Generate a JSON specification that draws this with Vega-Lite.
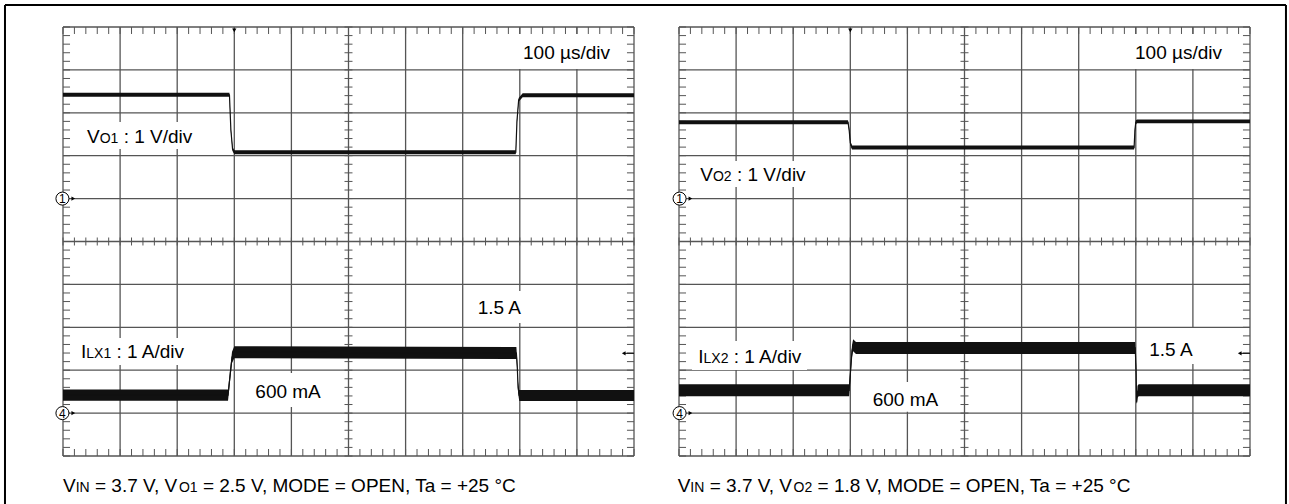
{
"$schema": "https://vega.github.io/schema/vega-lite/v6.json",
"padding": {"left": 3, "top": 3, "right": 3, "bottom": 0},
"background": "white",
"bounds": "flush",
"spacing": 45,
"config": {"view": {"stroke": null}, "font": "Liberation Sans"},
"datasets": {
"one": [{}],
"mt": [{"t":0},{"t":100},{"t":200},{"t":300},{"t":400},{"t":500},{"t":600},{"t":700},{"t":800},{"t":900},{"t":1000}],
"md": [{"d":0},{"d":1},{"d":2},{"d":3},{"d":4},{"d":5},{"d":6},{"d":7},{"d":8},{"d":9},{"d":10}],
"nt": [{"t":0},{"t":20},{"t":40},{"t":60},{"t":80},{"t":100},{"t":120},{"t":140},{"t":160},{"t":180},{"t":200},{"t":220},{"t":240},{"t":260},{"t":280},{"t":300},{"t":320},{"t":340},{"t":360},{"t":380},{"t":400},{"t":420},{"t":440},{"t":460},{"t":480},{"t":500},{"t":520},{"t":540},{"t":560},{"t":580},{"t":600},{"t":620},{"t":640},{"t":660},{"t":680},{"t":700},{"t":720},{"t":740},{"t":760},{"t":780},{"t":800},{"t":820},{"t":840},{"t":860},{"t":880},{"t":900},{"t":920},{"t":940},{"t":960},{"t":980},{"t":1000}],
"nd": [{"d":0},{"d":0.2},{"d":0.4},{"d":0.6},{"d":0.8},{"d":1},{"d":1.2},{"d":1.4},{"d":1.6},{"d":1.8},{"d":2},{"d":2.2},{"d":2.4},{"d":2.6},{"d":2.8},{"d":3},{"d":3.2},{"d":3.4},{"d":3.6},{"d":3.8},{"d":4},{"d":4.2},{"d":4.4},{"d":4.6},{"d":4.8},{"d":5},{"d":5.2},{"d":5.4},{"d":5.6},{"d":5.8},{"d":6},{"d":6.2},{"d":6.4},{"d":6.6},{"d":6.8},{"d":7},{"d":7.2},{"d":7.4},{"d":7.6},{"d":7.8},{"d":8},{"d":8.2},{"d":8.4},{"d":8.6},{"d":8.8},{"d":9},{"d":9.2},{"d":9.4},{"d":9.6},{"d":9.8},{"d":10}],
"tr": [
{"panel":"L","ch":"V","t":0,"v":2.42,"lo":2.375,"hi":2.465},
{"panel":"L","ch":"V","t":291.5,"v":2.42,"lo":2.375,"hi":2.465},
{"panel":"L","ch":"V","t":294,"v":1.6,"lo":1.555,"hi":1.645},
{"panel":"L","ch":"V","t":297,"v":1.15,"lo":1.105,"hi":1.195},
{"panel":"L","ch":"V","t":300,"v":1.08,"lo":1.035,"hi":1.125},
{"panel":"L","ch":"V","t":793,"v":1.08,"lo":1.035,"hi":1.125},
{"panel":"L","ch":"V","t":795,"v":1.8,"lo":1.755,"hi":1.845},
{"panel":"L","ch":"V","t":798,"v":2.3,"lo":2.255,"hi":2.345},
{"panel":"L","ch":"V","t":805,"v":2.41,"lo":2.365,"hi":2.455},
{"panel":"L","ch":"V","t":1000,"v":2.41,"lo":2.365,"hi":2.455},
{"panel":"L","ch":"I","t":0,"v":0.42,"lo":0.29,"hi":0.55},
{"panel":"L","ch":"I","t":289,"v":0.42,"lo":0.29,"hi":0.55},
{"panel":"L","ch":"I","t":292,"v":0.8,"lo":0.67,"hi":0.93},
{"panel":"L","ch":"I","t":296,"v":1.3,"lo":1.17,"hi":1.43},
{"panel":"L","ch":"I","t":300,"v":1.42,"lo":1.28,"hi":1.56},
{"panel":"L","ch":"I","t":794,"v":1.4,"lo":1.26,"hi":1.54},
{"panel":"L","ch":"I","t":795.5,"v":1.1,"lo":0.97,"hi":1.23},
{"panel":"L","ch":"I","t":797,"v":0.6,"lo":0.47,"hi":0.73},
{"panel":"L","ch":"I","t":799,"v":0.41,"lo":0.28,"hi":0.54},
{"panel":"L","ch":"I","t":1000,"v":0.41,"lo":0.28,"hi":0.54},
{"panel":"R","ch":"V","t":0,"v":1.78,"lo":1.735,"hi":1.825},
{"panel":"R","ch":"V","t":296,"v":1.78,"lo":1.735,"hi":1.825},
{"panel":"R","ch":"V","t":298,"v":1.6,"lo":1.555,"hi":1.645},
{"panel":"R","ch":"V","t":300,"v":1.3,"lo":1.255,"hi":1.345},
{"panel":"R","ch":"V","t":303,"v":1.19,"lo":1.145,"hi":1.235},
{"panel":"R","ch":"V","t":797,"v":1.19,"lo":1.145,"hi":1.235},
{"panel":"R","ch":"V","t":798.5,"v":1.6,"lo":1.555,"hi":1.645},
{"panel":"R","ch":"V","t":800,"v":1.78,"lo":1.735,"hi":1.825},
{"panel":"R","ch":"V","t":802,"v":1.8,"lo":1.755,"hi":1.845},
{"panel":"R","ch":"V","t":1000,"v":1.8,"lo":1.755,"hi":1.845},
{"panel":"R","ch":"I","t":0,"v":0.53,"lo":0.39,"hi":0.67},
{"panel":"R","ch":"I","t":298,"v":0.53,"lo":0.39,"hi":0.67},
{"panel":"R","ch":"I","t":300,"v":0.9,"lo":0.76,"hi":1.04},
{"panel":"R","ch":"I","t":303,"v":1.45,"lo":1.31,"hi":1.59},
{"panel":"R","ch":"I","t":305,"v":1.58,"lo":1.44,"hi":1.72},
{"panel":"R","ch":"I","t":310,"v":1.52,"lo":1.38,"hi":1.66},
{"panel":"R","ch":"I","t":799,"v":1.52,"lo":1.38,"hi":1.66},
{"panel":"R","ch":"I","t":800.5,"v":1.0,"lo":0.86,"hi":1.14},
{"panel":"R","ch":"I","t":801.5,"v":0.25,"lo":0.2,"hi":0.3},
{"panel":"R","ch":"I","t":803,"v":0.5,"lo":0.36,"hi":0.64},
{"panel":"R","ch":"I","t":805,"v":0.53,"lo":0.39,"hi":0.67},
{"panel":"R","ch":"I","t":1000,"v":0.53,"lo":0.39,"hi":0.67}
],
"lab": [
{"panel":"L","kind":"main","t":805.6,"d":9.245,"txt":"100 µs/div"},
{"panel":"L","kind":"main","t":42.0,"d":7.296,"txt":"V"},
{"panel":"L","kind":"sub","t":64.2,"d":7.296,"txt":"O1"},
{"panel":"L","kind":"main","t":106.2,"d":7.296,"txt":": 1 V/div"},
{"panel":"L","kind":"main","t":31.5,"d":2.284,"txt":"I"},
{"panel":"L","kind":"sub","t":40.8,"d":2.284,"txt":"LX1"},
{"panel":"L","kind":"main","t":93.6,"d":2.284,"txt":": 1 A/div"},
{"panel":"L","kind":"main","t":336.8,"d":1.352,"txt":"600 mA"},
{"panel":"L","kind":"main","t":726.3,"d":3.31,"txt":"1.5 A"},
{"panel":"L","kind":"main","t":0,"d":-0.839,"txt":"V"},
{"panel":"L","kind":"sub","t":22.2,"d":-0.839,"txt":"IN"},
{"panel":"L","kind":"main","t":56.0,"d":-0.839,"txt":"= 3.7 V, V"},
{"panel":"L","kind":"sub","t":203.0,"d":-0.839,"txt":"O1"},
{"panel":"L","kind":"main","t":245.0,"d":-0.839,"txt":"= 2.5 V, MODE = OPEN, Ta = +25 °C"},
{"panel":"R","kind":"main","t":798.6,"d":9.247,"txt":"100 µs/div"},
{"panel":"R","kind":"main","t":37.3,"d":6.41,"txt":"V"},
{"panel":"R","kind":"sub","t":59.5,"d":6.41,"txt":"O2"},
{"panel":"R","kind":"main","t":101.5,"d":6.41,"txt":": 1 V/div"},
{"panel":"R","kind":"main","t":33.8,"d":2.168,"txt":"I"},
{"panel":"R","kind":"sub","t":43.0,"d":2.168,"txt":"LX2"},
{"panel":"R","kind":"main","t":95.9,"d":2.168,"txt":": 1 A/div"},
{"panel":"R","kind":"main","t":339.2,"d":1.166,"txt":"600 mA"},
{"panel":"R","kind":"main","t":823.6,"d":2.331,"txt":"1.5 A"},
{"panel":"R","kind":"main","t":-2.3,"d":-0.839,"txt":"V"},
{"panel":"R","kind":"sub","t":19.9,"d":-0.839,"txt":"IN"},
{"panel":"R","kind":"main","t":53.7,"d":-0.839,"txt":"= 3.7 V, V"},
{"panel":"R","kind":"sub","t":200.7,"d":-0.839,"txt":"O2"},
{"panel":"R","kind":"main","t":242.7,"d":-0.839,"txt":"= 1.8 V, MODE = OPEN, Ta = +25 °C"}
],
"box": [
{"panel":"L","t":795,"t2":970,"d":9.021,"d2":9.837},
{"panel":"L","t":31.5,"t2":234.7,"d":7.156,"d2":7.786},
{"panel":"L","t":24.5,"t2":224.2,"d":2.121,"d2":2.751},
{"panel":"L","t":324,"t2":464,"d":1.142,"d2":1.935},
{"panel":"L","t":714.5,"t2":814.4,"d":3.1,"d2":3.846},
{"panel":"R","t":788,"t2":966.7,"d":9.021,"d2":9.837},
{"panel":"R","t":26.3,"t2":234.7,"d":6.27,"d2":6.876},
{"panel":"R","t":22.8,"t2":224.2,"d":2.005,"d2":2.681},
{"panel":"R","t":327.5,"t2":464.1,"d":1.03,"d2":1.725},
{"panel":"R","t":812.6,"t2":908.9,"d":2.145,"d2":2.984}
],
"circ": [
{"panel":"L","t":-1,"d":6,"txt":"1"},
{"panel":"L","t":-1,"d":1,"txt":"4"},
{"panel":"R","t":1,"d":6,"txt":"1"},
{"panel":"R","t":1,"d":1,"txt":"4"}
],
"arr": [
{"panel":"L","t":18,"d":6,"dir":"right"},
{"panel":"L","t":18,"d":1,"dir":"right"},
{"panel":"L","t":300,"d":9.92,"dir":"down"},
{"panel":"L","t":982,"d":2.394,"dir":"left"},
{"panel":"R","t":20,"d":6,"dir":"right"},
{"panel":"R","t":20,"d":1,"dir":"right"},
{"panel":"R","t":300,"d":9.92,"dir":"down"},
{"panel":"R","t":982,"d":2.394,"dir":"left"}
],
"tail": [
{"panel":"L","t":982,"t2":1000,"d":2.394},
{"panel":"R","t":982,"t2":1000,"d":2.394}
]
},
"hconcat": [
{
"width": 571, "height": 429,
"resolve": {"scale": {"y": "independent"}},
"layer": [
{"layer": [
{"data": {"name": "mt"}, "mark": {"type": "rule", "color": "#555", "strokeWidth": 1.3},
 "encoding": {"x": {"field": "t", "type": "quantitative", "scale": {"domain": [0, 1000], "nice": false, "zero": false}, "axis": null},
  "y": {"datum": 0, "type": "quantitative", "scale": {"domain": [0, 10], "nice": false, "zero": false}, "axis": null}, "y2": {"datum": 10}}},
{"data": {"name": "md"}, "mark": {"type": "rule", "color": "#555", "strokeWidth": 1.3},
 "encoding": {"y": {"field": "d", "type": "quantitative", "scale": {"domain": [0, 10], "nice": false, "zero": false}, "axis": null},
  "x": {"datum": 0, "type": "quantitative", "scale": {"domain": [0, 1000], "nice": false, "zero": false}, "axis": null}, "x2": {"datum": 1000}}},
{"data": {"name": "nt"}, "mark": {"type": "rule", "color": "#555", "strokeWidth": 1},
 "encoding": {"x": {"field": "t", "type": "quantitative", "scale": {"domain": [0, 1000], "nice": false, "zero": false}, "axis": null},
  "y": {"datum": 10, "type": "quantitative", "scale": {"domain": [0, 10], "nice": false, "zero": false}, "axis": null}, "y2": {"datum": 9.837}}},
{"data": {"name": "nt"}, "mark": {"type": "rule", "color": "#555", "strokeWidth": 1},
 "encoding": {"x": {"field": "t", "type": "quantitative", "scale": {"domain": [0, 1000], "nice": false, "zero": false}, "axis": null},
  "y": {"datum": 0, "type": "quantitative", "scale": {"domain": [0, 10], "nice": false, "zero": false}, "axis": null}, "y2": {"datum": 0.163}}},
{"data": {"name": "nt"}, "mark": {"type": "rule", "color": "#555", "strokeWidth": 1},
 "encoding": {"x": {"field": "t", "type": "quantitative", "scale": {"domain": [0, 1000], "nice": false, "zero": false}, "axis": null},
  "y": {"datum": 5.093, "type": "quantitative", "scale": {"domain": [0, 10], "nice": false, "zero": false}, "axis": null}, "y2": {"datum": 4.907}}},
{"data": {"name": "nd"}, "mark": {"type": "rule", "color": "#555", "strokeWidth": 1},
 "encoding": {"y": {"field": "d", "type": "quantitative", "scale": {"domain": [0, 10], "nice": false, "zero": false}, "axis": null},
  "x": {"datum": 0, "type": "quantitative", "scale": {"domain": [0, 1000], "nice": false, "zero": false}, "axis": null}, "x2": {"datum": 12.3}}},
{"data": {"name": "nd"}, "mark": {"type": "rule", "color": "#555", "strokeWidth": 1},
 "encoding": {"y": {"field": "d", "type": "quantitative", "scale": {"domain": [0, 10], "nice": false, "zero": false}, "axis": null},
  "x": {"datum": 1000, "type": "quantitative", "scale": {"domain": [0, 1000], "nice": false, "zero": false}, "axis": null}, "x2": {"datum": 987.7}}},
{"data": {"name": "nd"}, "mark": {"type": "rule", "color": "#555", "strokeWidth": 1},
 "encoding": {"y": {"field": "d", "type": "quantitative", "scale": {"domain": [0, 10], "nice": false, "zero": false}, "axis": null},
  "x": {"datum": 493, "type": "quantitative", "scale": {"domain": [0, 1000], "nice": false, "zero": false}, "axis": null}, "x2": {"datum": 507}}},
{"data": {"name": "box"}, "transform": [{"filter": "datum.panel=='L'"}], "mark": {"type": "rect", "fill": "white", "stroke": null},
 "encoding": {"x": {"field": "t", "type": "quantitative", "scale": {"domain": [0, 1000], "nice": false, "zero": false}, "axis": null}, "x2": {"field": "t2"},
  "y": {"field": "d", "type": "quantitative", "scale": {"domain": [0, 10], "nice": false, "zero": false}, "axis": null}, "y2": {"field": "d2"}}},
{"data": {"name": "one"}, "mark": {"type": "rule", "color": "black", "strokeWidth": 2},
 "encoding": {"x": {"datum": -101.6, "type": "quantitative", "scale": {"domain": [0, 1000], "nice": false, "zero": false}, "axis": null}, "x2": {"datum": 2141.8},
  "y": {"datum": 10.513, "type": "quantitative", "scale": {"domain": [0, 10], "nice": false, "zero": false}, "axis": null}}},
{"data": {"name": "one"}, "mark": {"type": "rule", "color": "black", "strokeWidth": 2},
 "encoding": {"x": {"datum": -101.6, "type": "quantitative", "scale": {"domain": [0, 1000], "nice": false, "zero": false}, "axis": null},
  "y": {"datum": 10.513, "type": "quantitative", "scale": {"domain": [0, 10], "nice": false, "zero": false}, "axis": null}, "y2": {"datum": -1.119}}},
{"data": {"name": "one"}, "mark": {"type": "rule", "color": "black", "strokeWidth": 2},
 "encoding": {"x": {"datum": 2141.8, "type": "quantitative", "scale": {"domain": [0, 1000], "nice": false, "zero": false}, "axis": null},
  "y": {"datum": 10.513, "type": "quantitative", "scale": {"domain": [0, 10], "nice": false, "zero": false}, "axis": null}, "y2": {"datum": -1.119}}},
{"data": {"name": "tail"}, "transform": [{"filter": "datum.panel=='L'"}], "mark": {"type": "rule", "color": "black", "strokeWidth": 1},
 "encoding": {"x": {"field": "t", "type": "quantitative", "scale": {"domain": [0, 1000], "nice": false, "zero": false}, "axis": null}, "x2": {"field": "t2"},
  "y": {"field": "d", "type": "quantitative", "scale": {"domain": [0, 10], "nice": false, "zero": false}, "axis": null}}},
{"data": {"name": "arr"}, "transform": [{"filter": "datum.panel=='L'"}], "mark": {"type": "point", "filled": true, "color": "black", "size": 18, "opacity": 1},
 "encoding": {"x": {"field": "t", "type": "quantitative", "scale": {"domain": [0, 1000], "nice": false, "zero": false}, "axis": null},
  "y": {"field": "d", "type": "quantitative", "scale": {"domain": [0, 10], "nice": false, "zero": false}, "axis": null},
  "shape": {"field": "dir", "type": "nominal", "scale": {"domain": ["left", "right", "down"], "range": ["triangle-left", "triangle-right", "triangle-down"]}, "legend": null}}},
{"data": {"name": "circ"}, "transform": [{"filter": "datum.panel=='L'"}], "mark": {"type": "point", "shape": "circle", "filled": true, "fill": "white", "stroke": "black", "strokeWidth": 1, "size": 170, "opacity": 1},
 "encoding": {"x": {"field": "t", "type": "quantitative", "scale": {"domain": [0, 1000], "nice": false, "zero": false}, "axis": null},
  "y": {"field": "d", "type": "quantitative", "scale": {"domain": [0, 10], "nice": false, "zero": false}, "axis": null}}},
{"data": {"name": "circ"}, "transform": [{"filter": "datum.panel=='L'"}], "mark": {"type": "text", "fontSize": 12, "align": "center", "baseline": "middle", "color": "black", "dy": 0.5},
 "encoding": {"x": {"field": "t", "type": "quantitative", "scale": {"domain": [0, 1000], "nice": false, "zero": false}, "axis": null},
  "y": {"field": "d", "type": "quantitative", "scale": {"domain": [0, 10], "nice": false, "zero": false}, "axis": null}, "text": {"field": "txt"}}},
{"data": {"name": "lab"}, "transform": [{"filter": "datum.panel=='L' && datum.kind=='main'"}], "mark": {"type": "text", "fontSize": 19, "align": "left", "baseline": "alphabetic", "color": "black"},
 "encoding": {"x": {"field": "t", "type": "quantitative", "scale": {"domain": [0, 1000], "nice": false, "zero": false}, "axis": null},
  "y": {"field": "d", "type": "quantitative", "scale": {"domain": [0, 10], "nice": false, "zero": false}, "axis": null}, "text": {"field": "txt"}}},
{"data": {"name": "lab"}, "transform": [{"filter": "datum.panel=='L' && datum.kind=='sub'"}], "mark": {"type": "text", "fontSize": 14, "align": "left", "baseline": "alphabetic", "color": "black"},
 "encoding": {"x": {"field": "t", "type": "quantitative", "scale": {"domain": [0, 1000], "nice": false, "zero": false}, "axis": null},
  "y": {"field": "d", "type": "quantitative", "scale": {"domain": [0, 10], "nice": false, "zero": false}, "axis": null}, "text": {"field": "txt"}}}
]},
{"data": {"name": "tr"}, "transform": [{"filter": "datum.panel=='L' && datum.ch=='V'"}],
 "layer": [
 {"mark": {"type": "area", "color": "#111", "opacity": 1},
  "encoding": {"x": {"field": "t", "type": "quantitative", "scale": {"domain": [0, 1000], "nice": false, "zero": false}, "axis": null},
   "y": {"field": "lo", "type": "quantitative", "scale": {"domain": [-6, 4], "nice": false, "zero": false}, "axis": null}, "y2": {"field": "hi"}}},
 {"mark": {"type": "line", "color": "#111", "strokeWidth": 1.2},
  "encoding": {"x": {"field": "t", "type": "quantitative", "scale": {"domain": [0, 1000], "nice": false, "zero": false}, "axis": null},
   "y": {"field": "v", "type": "quantitative", "scale": {"domain": [-6, 4], "nice": false, "zero": false}, "axis": null}}}
 ]},
{"data": {"name": "tr"}, "transform": [{"filter": "datum.panel=='L' && datum.ch=='I'"}],
 "layer": [
 {"mark": {"type": "area", "color": "#111", "opacity": 1},
  "encoding": {"x": {"field": "t", "type": "quantitative", "scale": {"domain": [0, 1000], "nice": false, "zero": false}, "axis": null},
   "y": {"field": "lo", "type": "quantitative", "scale": {"domain": [-1, 9], "nice": false, "zero": false}, "axis": null}, "y2": {"field": "hi"}}},
 {"mark": {"type": "line", "color": "#111", "strokeWidth": 1.2},
  "encoding": {"x": {"field": "t", "type": "quantitative", "scale": {"domain": [0, 1000], "nice": false, "zero": false}, "axis": null},
   "y": {"field": "v", "type": "quantitative", "scale": {"domain": [-1, 9], "nice": false, "zero": false}, "axis": null}}}
 ]}
]
},
{
"width": 571, "height": 429,
"resolve": {"scale": {"y": "independent"}},
"layer": [
{"layer": [
{"data": {"name": "mt"}, "mark": {"type": "rule", "color": "#555", "strokeWidth": 1.3},
 "encoding": {"x": {"field": "t", "type": "quantitative", "scale": {"domain": [0, 1000], "nice": false, "zero": false}, "axis": null},
  "y": {"datum": 0, "type": "quantitative", "scale": {"domain": [0, 10], "nice": false, "zero": false}, "axis": null}, "y2": {"datum": 10}}},
{"data": {"name": "md"}, "mark": {"type": "rule", "color": "#555", "strokeWidth": 1.3},
 "encoding": {"y": {"field": "d", "type": "quantitative", "scale": {"domain": [0, 10], "nice": false, "zero": false}, "axis": null},
  "x": {"datum": 0, "type": "quantitative", "scale": {"domain": [0, 1000], "nice": false, "zero": false}, "axis": null}, "x2": {"datum": 1000}}},
{"data": {"name": "nt"}, "mark": {"type": "rule", "color": "#555", "strokeWidth": 1},
 "encoding": {"x": {"field": "t", "type": "quantitative", "scale": {"domain": [0, 1000], "nice": false, "zero": false}, "axis": null},
  "y": {"datum": 10, "type": "quantitative", "scale": {"domain": [0, 10], "nice": false, "zero": false}, "axis": null}, "y2": {"datum": 9.837}}},
{"data": {"name": "nt"}, "mark": {"type": "rule", "color": "#555", "strokeWidth": 1},
 "encoding": {"x": {"field": "t", "type": "quantitative", "scale": {"domain": [0, 1000], "nice": false, "zero": false}, "axis": null},
  "y": {"datum": 0, "type": "quantitative", "scale": {"domain": [0, 10], "nice": false, "zero": false}, "axis": null}, "y2": {"datum": 0.163}}},
{"data": {"name": "nt"}, "mark": {"type": "rule", "color": "#555", "strokeWidth": 1},
 "encoding": {"x": {"field": "t", "type": "quantitative", "scale": {"domain": [0, 1000], "nice": false, "zero": false}, "axis": null},
  "y": {"datum": 5.093, "type": "quantitative", "scale": {"domain": [0, 10], "nice": false, "zero": false}, "axis": null}, "y2": {"datum": 4.907}}},
{"data": {"name": "nd"}, "mark": {"type": "rule", "color": "#555", "strokeWidth": 1},
 "encoding": {"y": {"field": "d", "type": "quantitative", "scale": {"domain": [0, 10], "nice": false, "zero": false}, "axis": null},
  "x": {"datum": 0, "type": "quantitative", "scale": {"domain": [0, 1000], "nice": false, "zero": false}, "axis": null}, "x2": {"datum": 12.3}}},
{"data": {"name": "nd"}, "mark": {"type": "rule", "color": "#555", "strokeWidth": 1},
 "encoding": {"y": {"field": "d", "type": "quantitative", "scale": {"domain": [0, 10], "nice": false, "zero": false}, "axis": null},
  "x": {"datum": 1000, "type": "quantitative", "scale": {"domain": [0, 1000], "nice": false, "zero": false}, "axis": null}, "x2": {"datum": 987.7}}},
{"data": {"name": "nd"}, "mark": {"type": "rule", "color": "#555", "strokeWidth": 1},
 "encoding": {"y": {"field": "d", "type": "quantitative", "scale": {"domain": [0, 10], "nice": false, "zero": false}, "axis": null},
  "x": {"datum": 493, "type": "quantitative", "scale": {"domain": [0, 1000], "nice": false, "zero": false}, "axis": null}, "x2": {"datum": 507}}},
{"data": {"name": "box"}, "transform": [{"filter": "datum.panel=='R'"}], "mark": {"type": "rect", "fill": "white", "stroke": null},
 "encoding": {"x": {"field": "t", "type": "quantitative", "scale": {"domain": [0, 1000], "nice": false, "zero": false}, "axis": null}, "x2": {"field": "t2"},
  "y": {"field": "d", "type": "quantitative", "scale": {"domain": [0, 10], "nice": false, "zero": false}, "axis": null}, "y2": {"field": "d2"}}},
{"data": {"name": "tail"}, "transform": [{"filter": "datum.panel=='R'"}], "mark": {"type": "rule", "color": "black", "strokeWidth": 1},
 "encoding": {"x": {"field": "t", "type": "quantitative", "scale": {"domain": [0, 1000], "nice": false, "zero": false}, "axis": null}, "x2": {"field": "t2"},
  "y": {"field": "d", "type": "quantitative", "scale": {"domain": [0, 10], "nice": false, "zero": false}, "axis": null}}},
{"data": {"name": "arr"}, "transform": [{"filter": "datum.panel=='R'"}], "mark": {"type": "point", "filled": true, "color": "black", "size": 18, "opacity": 1},
 "encoding": {"x": {"field": "t", "type": "quantitative", "scale": {"domain": [0, 1000], "nice": false, "zero": false}, "axis": null},
  "y": {"field": "d", "type": "quantitative", "scale": {"domain": [0, 10], "nice": false, "zero": false}, "axis": null},
  "shape": {"field": "dir", "type": "nominal", "scale": {"domain": ["left", "right", "down"], "range": ["triangle-left", "triangle-right", "triangle-down"]}, "legend": null}}},
{"data": {"name": "circ"}, "transform": [{"filter": "datum.panel=='R'"}], "mark": {"type": "point", "shape": "circle", "filled": true, "fill": "white", "stroke": "black", "strokeWidth": 1, "size": 170, "opacity": 1},
 "encoding": {"x": {"field": "t", "type": "quantitative", "scale": {"domain": [0, 1000], "nice": false, "zero": false}, "axis": null},
  "y": {"field": "d", "type": "quantitative", "scale": {"domain": [0, 10], "nice": false, "zero": false}, "axis": null}}},
{"data": {"name": "circ"}, "transform": [{"filter": "datum.panel=='R'"}], "mark": {"type": "text", "fontSize": 12, "align": "center", "baseline": "middle", "color": "black", "dy": 0.5},
 "encoding": {"x": {"field": "t", "type": "quantitative", "scale": {"domain": [0, 1000], "nice": false, "zero": false}, "axis": null},
  "y": {"field": "d", "type": "quantitative", "scale": {"domain": [0, 10], "nice": false, "zero": false}, "axis": null}, "text": {"field": "txt"}}},
{"data": {"name": "lab"}, "transform": [{"filter": "datum.panel=='R' && datum.kind=='main'"}], "mark": {"type": "text", "fontSize": 19, "align": "left", "baseline": "alphabetic", "color": "black"},
 "encoding": {"x": {"field": "t", "type": "quantitative", "scale": {"domain": [0, 1000], "nice": false, "zero": false}, "axis": null},
  "y": {"field": "d", "type": "quantitative", "scale": {"domain": [0, 10], "nice": false, "zero": false}, "axis": null}, "text": {"field": "txt"}}},
{"data": {"name": "lab"}, "transform": [{"filter": "datum.panel=='R' && datum.kind=='sub'"}], "mark": {"type": "text", "fontSize": 14, "align": "left", "baseline": "alphabetic", "color": "black"},
 "encoding": {"x": {"field": "t", "type": "quantitative", "scale": {"domain": [0, 1000], "nice": false, "zero": false}, "axis": null},
  "y": {"field": "d", "type": "quantitative", "scale": {"domain": [0, 10], "nice": false, "zero": false}, "axis": null}, "text": {"field": "txt"}}}
]},
{"data": {"name": "tr"}, "transform": [{"filter": "datum.panel=='R' && datum.ch=='V'"}],
 "layer": [
 {"mark": {"type": "area", "color": "#111", "opacity": 1},
  "encoding": {"x": {"field": "t", "type": "quantitative", "scale": {"domain": [0, 1000], "nice": false, "zero": false}, "axis": null},
   "y": {"field": "lo", "type": "quantitative", "scale": {"domain": [-6, 4], "nice": false, "zero": false}, "axis": null}, "y2": {"field": "hi"}}},
 {"mark": {"type": "line", "color": "#111", "strokeWidth": 1.2},
  "encoding": {"x": {"field": "t", "type": "quantitative", "scale": {"domain": [0, 1000], "nice": false, "zero": false}, "axis": null},
   "y": {"field": "v", "type": "quantitative", "scale": {"domain": [-6, 4], "nice": false, "zero": false}, "axis": null}}}
 ]},
{"data": {"name": "tr"}, "transform": [{"filter": "datum.panel=='R' && datum.ch=='I'"}],
 "layer": [
 {"mark": {"type": "area", "color": "#111", "opacity": 1},
  "encoding": {"x": {"field": "t", "type": "quantitative", "scale": {"domain": [0, 1000], "nice": false, "zero": false}, "axis": null},
   "y": {"field": "lo", "type": "quantitative", "scale": {"domain": [-1, 9], "nice": false, "zero": false}, "axis": null}, "y2": {"field": "hi"}}},
 {"mark": {"type": "line", "color": "#111", "strokeWidth": 1.2},
  "encoding": {"x": {"field": "t", "type": "quantitative", "scale": {"domain": [0, 1000], "nice": false, "zero": false}, "axis": null},
   "y": {"field": "v", "type": "quantitative", "scale": {"domain": [-1, 9], "nice": false, "zero": false}, "axis": null}}}
 ]}
]
}
]
}
